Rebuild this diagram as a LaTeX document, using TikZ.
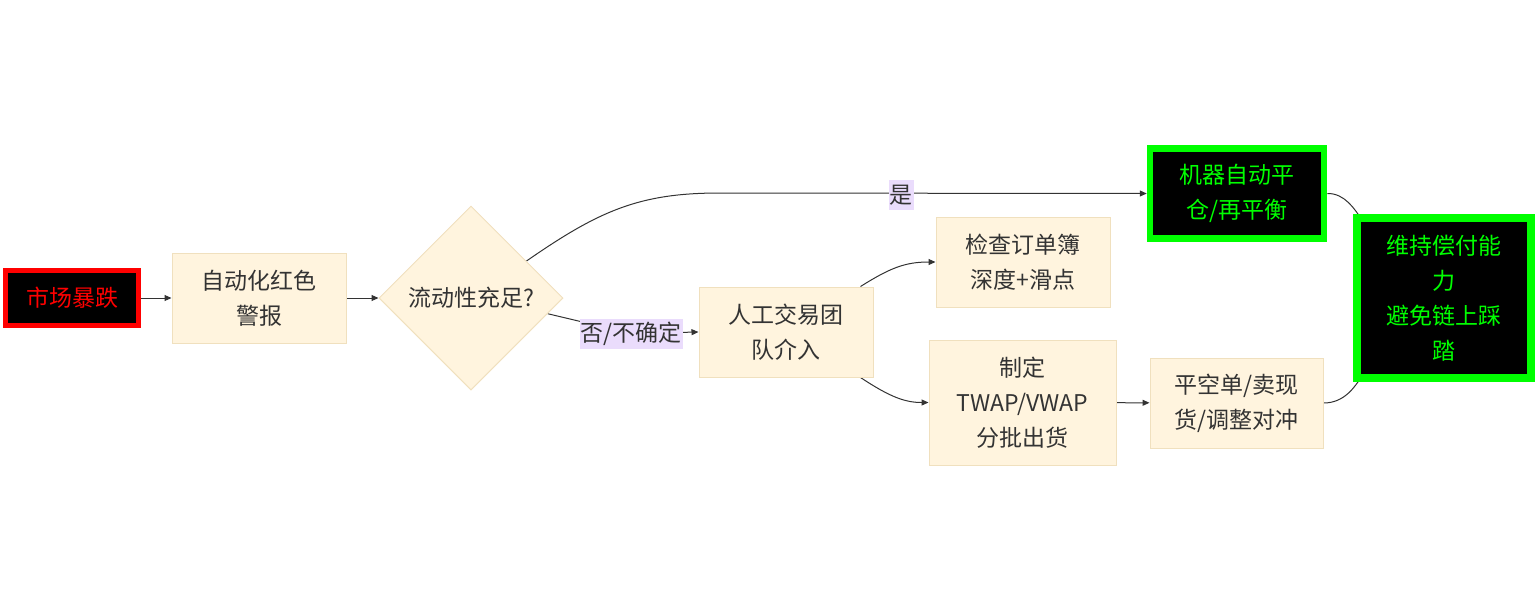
\documentclass[tikz,border=0pt]{standalone}
\usepackage{fontspec}
\setmainfont{Noto Sans CJK SC}
\usetikzlibrary{shapes.geometric,arrows.meta,calc}
\pgfdeclarelayer{bg}
\pgfsetlayers{bg,main}
\definecolor{nfill}{HTML}{FFF4DE}
\definecolor{nline}{HTML}{F0E0BE}
\definecolor{txt}{HTML}{333333}
\definecolor{lblbg}{HTML}{EADCFC}
\definecolor{gbright}{HTML}{00FF00}
\definecolor{rbright}{HTML}{FF0000}
\begin{document}
\begin{tikzpicture}[x=1pt,y=-1pt,
  every node/.style={font=\fontsize{23}{35}\selectfont, text=txt, align=center, inner sep=0pt},
  proc/.style={rectangle, fill=nfill, draw=nline, line width=1pt},
  dec/.style={diamond, aspect=1, minimum size=184pt, fill=nfill, draw=nline, line width=1pt},
  redbox/.style={rectangle, fill=black, draw=rbright, line width=5pt, text=rbright},
  gbox/.style={rectangle, fill=black, draw=gbright, line width=6.5pt, text=gbright},
  elbl/.style={fill=lblbg, minimum height=30pt, inner xsep=1pt},
  edge/.style={draw=txt, line width=1pt, -{Triangle[length=7pt,width=6pt]}}]
\useasboundingbox (0,0) rectangle (1536,614);

\node[redbox, minimum width=133pt, minimum height=55pt] (crash) at (72,298) {市场暴跌};
\node[proc, minimum width=174pt, minimum height=90pt] (alert) at (259,298) {自动化红色\\警报};
\node[dec] (dia) at (471,298) {流动性充足?};
\node[proc, minimum width=174pt, minimum height=90pt] (ren) at (786,332) {人工交易团\\队介入};
\node[proc, minimum width=174pt, minimum height=90pt] (chk) at (1023,262) {检查订单簿\\深度+滑点};
\node[proc, minimum width=187pt, minimum height=125pt] (twap) at (1022.5,402.5) {制定\\TWAP/VWAP\\分批出货};
\node[proc, minimum width=173pt, minimum height=90pt] (close) at (1236.5,403) {平空单/卖现\\货/调整对冲};
\node[gbox, minimum width=174pt, minimum height=90pt] (mach) at (1237,193.5) {机器自动平\\仓/再平衡};
\node[gbox, line width=7.5pt, minimum width=174pt, minimum height=160pt] (keep) at (1444,298) {维持偿付能\\力\\避免链上踩\\踏};

\node[elbl] (yes) at (901,195) {是};
\node[elbl] (no) at (631,333.5) {否/不确定};

\begin{pgfonlayer}{bg}
\draw[edge] (crash) -- (alert);
\draw[edge] (alert) -- (dia);
\draw[edge] ($(dia.north)!0.6!(dia.east)$) .. controls (600,210) and (640,193) .. (720,193) -- (mach.west);
\draw[edge] ($(dia.east)!0.17!(dia.south)$) -- (no.center) -- (ren.west);
\draw[edge] ($(ren.north east)+(-13,0)$) .. controls (890,268) and (905,262) .. (chk.west);
\draw[edge] ($(ren.south east)+(-13,0)$) .. controls (890,397) and (905,402.5) .. (twap.west);
\draw[edge] (twap) -- (close);
\draw[edge] (mach.east) .. controls (1345,193) and (1355,210) .. ($(keep.north west)+(12,10)$);
\draw[edge] (close.east) .. controls (1345,403) and (1355,386) .. ($(keep.south west)+(12,-10)$);
\end{pgfonlayer}
\end{tikzpicture}
\end{document}
